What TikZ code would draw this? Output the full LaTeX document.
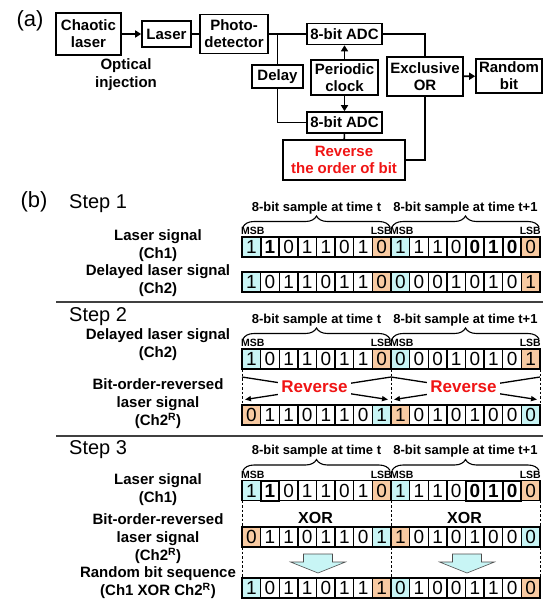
\documentclass[tikz,border=0pt]{standalone}
\usepackage{fontspec}
\setmainfont{Liberation Sans}
\usetikzlibrary{positioning,calc,arrows.meta,decorations.pathreplacing}

\definecolor{bitcyan}{RGB}{200,245,245}
\definecolor{bitorange}{RGB}{248,202,162}
\definecolor{revred}{RGB}{240,20,20}

\tikzset{
  blk/.style={draw, line width=1.6pt, inner sep=2pt, align=center,
    font=\fontsize{15}{17}\selectfont\bfseries},
  wire/.style={line width=1.6pt},
  arr/.style={wire, -{Triangle[length=6pt,width=7pt]}},
  cell/.style={draw, line width=1.3pt, minimum width=18.625pt,
    minimum height=20pt, inner sep=0pt, outer sep=0pt,
    font=\fontsize{19}{19}\selectfont},
  hc/.style={fill=bitcyan},
  ho/.style={fill=bitorange},
  hb/.style={line width=2pt, font=\fontsize{19}{19}\selectfont\bfseries},
  pl/.style={},
  lbl/.style={align=center, font=\fontsize{15}{18}\selectfont\bfseries},
  steptxt/.style={anchor=west, inner sep=0pt, font=\fontsize{20}{20}\selectfont},
  tinytxt/.style={inner sep=0pt, font=\fontsize{10.5}{10.5}\selectfont\bfseries},
  headtxt/.style={inner sep=0pt, font=\fontsize{13}{13}\selectfont\bfseries},
  sbrace/.style={decorate, decoration={brace, amplitude=11pt}, line width=1.1pt},
  sepline/.style={line width=1.3pt, black!75},
  vdash/.style={dash pattern=on 2.5pt off 2pt, line width=0.8pt},
  revarrow/.style={line width=1.3pt, shorten >=3pt, -{Triangle[length=6pt,width=5pt]}},
  revtxt/.style={fill=white, text=revred, inner sep=3pt,
    font=\fontsize{17}{17}\selectfont\bfseries},
  xortxt/.style={font=\fontsize{16}{16}\selectfont\bfseries},
  fatarrow/.style={fill=bitcyan, draw=black!70, line width=0.6pt},
}

% one row of 16 bit cells: name, y, list of digit/look
\newcommand{\bitrow}[3]{%
  \foreach \digit/\look [count=\i] in {#3}
    \node[cell,\look] (#1-\i) at ({242+(\i-0.5)*18.625}, #2) {\digit};
}
% braces, sample titles and MSB/LSB over a row
\newcommand{\samplehead}[1]{%
  \foreach \lo/\hi/\when in {1/8/t, 9/16/t+1} {
    \draw[sbrace] ($(#1-\lo.north west)+(1,-10)$) -- ($(#1-\hi.north east)+(-1,-10)$);
    \node[headtxt] at ($(#1-\lo.north west)!0.5!(#1-\hi.north east)+(0,-29)$) {8-bit sample at time \when};
    \node[tinytxt, anchor=west] at ($(#1-\lo.north west)+(-1,-6)$) {MSB};
    \node[tinytxt, anchor=east] at ($(#1-\hi.north east)+(1,-6)$) {LSB};
  }
}
% dashed guides between two rows
\newcommand{\gapdash}[2]{%
  \draw[vdash] (#1-1.south west) -- (#2-1.north west);
  \draw[vdash] (#1-8.south east) -- (#2-8.north east);
  \draw[vdash] (#1-16.south east) -- (#2-16.north east);
}

\begin{document}
\begin{tikzpicture}[x=1pt, y=-1pt]
  \useasboundingbox (0,0) rectangle (543,599);

  % (a) generator set-up
  \node[font=\fontsize{22}{22}\selectfont] (pa) at (30,21) {(a)};
  \node[blk, minimum width=65pt, minimum height=42pt] (chaos) at (88.5,34) {Chaotic\\laser};
  \node[blk, minimum width=49pt, minimum height=26pt] (laser) at (166.5,34) {Laser};
  \node[blk, minimum width=68pt, minimum height=39pt] (pd) at (234,34) {Photo-\\detector};
  \node[lbl] (inj) at (126,75) {Optical\\injection};
  \node[blk, minimum width=75pt, minimum height=21pt] (adc1) at (344.5,34) {8-bit ADC};
  \node[blk, minimum width=51pt, minimum height=23pt] (delay) at (277.5,76.5) {Delay};
  \node[blk, minimum width=67pt, minimum height=35pt] (clk) at (344.5,77.5) {Periodic\\clock};
  \node[blk, minimum width=75pt, minimum height=21pt] (adc2) at (344.5,122.5) {8-bit ADC};
  \node[blk, minimum width=122pt, minimum height=40pt, text=revred] (rev) at (344,160) {Reverse\\the order of bit};
  \node[blk, minimum width=76pt, minimum height=39pt] (xor) at (425,76.5) {Exclusive\\OR};
  \node[blk, minimum width=66pt, minimum height=34pt] (rnd) at (509,76) {Random\\bit};

  \draw[arr] (chaos) -- (laser);
  \draw[wire] (laser) -- (pd);
  \draw[wire] (pd) -- (adc1);
  \draw[wire] (delay.north |- pd.east) -- (delay);
  \draw[wire] (delay) |- (adc2);
  \draw[arr] (clk) -- (adc1);
  \draw[arr] (clk) -- (adc2);
  \draw[wire] (adc2) -- (rev);
  \draw[wire] (adc1) -| (xor);
  \draw[wire] (rev) -| (xor);
  \draw[arr] (xor) -- (rnd);

  % (b) the three steps
  \node[font=\fontsize{22}{22}\selectfont] (pb) at (34,202) {(b)};

  % Step 1
  \node[steptxt] (st1) at (69,204) {Step 1};
  \bitrow{s1a}{247}{1/hc,1/hb,0/pl,1/pl,1/pl,0/pl,1/pl,0/ho,1/hc,1/pl,1/pl,0/pl,0/hb,1/hb,0/hb,0/ho}
  \bitrow{s1b}{282}{1/hc,0/pl,1/pl,1/pl,0/pl,1/pl,1/pl,0/ho,0/hc,0/pl,0/pl,1/pl,0/pl,1/pl,0/pl,1/ho}
  \samplehead{s1a}
  \node[lbl] (n1a) at (158,245.5) {Laser signal\\(Ch1)};
  \node[lbl] (n1b) at (158,281) {Delayed laser signal\\(Ch2)};
  \draw[sepline] (56,302) -- (543,302);

  % Step 2
  \node[steptxt] (st2) at (69,317) {Step 2};
  \bitrow{s2a}{359}{1/hc,0/pl,1/pl,1/pl,0/pl,1/pl,1/pl,0/ho,0/hc,0/pl,0/pl,1/pl,0/pl,1/pl,0/pl,1/ho}
  \bitrow{s2b}{415}{0/ho,1/pl,1/pl,0/pl,1/pl,1/pl,0/pl,1/hc,1/ho,0/pl,1/pl,0/pl,1/pl,0/pl,0/pl,0/hc}
  \samplehead{s2a}
  \gapdash{s2a}{s2b}
  \foreach \lo/\hi in {1/8, 9/16} {
    \draw[revarrow] ($(s2a-\lo.south west)+(0,8)$) -- ($(s2b-\hi.north east)+(0,-5)$);
    \draw[revarrow] ($(s2a-\hi.south east)+(0,8)$) -- ($(s2b-\lo.north west)+(0,-5)$);
    \node[revtxt] at ($(s2a-\lo.south west)!0.5!(s2b-\hi.north east)+(-2,0)$) {Reverse};
  }
  \node[lbl] (n2a) at (158,345) {Delayed laser signal\\(Ch2)};
  \node[lbl] (n2b) at (158,404) {Bit-order-reversed\\laser signal\\(Ch2\textsuperscript{R})};
  \draw[sepline] (56,436) -- (543,436);

  % Step 3
  \node[steptxt] (st3) at (69,450) {Step 3};
  \bitrow{s3a}{490.5}{1/hc,1/hb,0/pl,1/pl,1/pl,0/pl,1/pl,0/ho,1/hc,1/pl,1/pl,0/pl,0/hb,1/hb,0/hb,0/ho}
  \bitrow{s3b}{537}{0/ho,1/pl,1/pl,0/pl,1/pl,1/pl,0/pl,1/hc,1/ho,0/pl,1/pl,0/pl,1/pl,0/pl,0/pl,0/hc}
  \bitrow{s3c}{588}{1/hc,0/pl,1/pl,1/pl,0/pl,1/pl,1/pl,1/ho,0/hc,1/pl,0/pl,0/pl,1/pl,1/pl,0/pl,0/ho}
  \samplehead{s3a}
  \gapdash{s3a}{s3b}
  \gapdash{s3b}{s3c}
  \foreach \lo/\hi in {1/8, 9/16} {
    \node[xortxt] at ($(s3a-\lo.south west)!0.5!(s3b-\hi.north east)+(-1,4)$) {XOR};
    \coordinate (tip) at ($(s3b-\lo.south west)!0.5!(s3b-\hi.south east)+(1.5,26)$);
    \filldraw[fatarrow] (tip) -- ++(-27.5,-11) -- ++(13,0) -- ++(0,-8) -- ++(29,0)
      -- ++(0,8) -- ++(13,0) -- cycle;
  }
  \node[lbl] (n3a) at (158,490) {Laser signal\\(Ch1)};
  \node[lbl] (n3b) at (158,539) {Bit-order-reversed\\laser signal\\(Ch2\textsuperscript{R})};
  \node[lbl] (n3c) at (158,583) {Random bit sequence\\(Ch1 XOR Ch2\textsuperscript{R})};
\end{tikzpicture}
\end{document}
